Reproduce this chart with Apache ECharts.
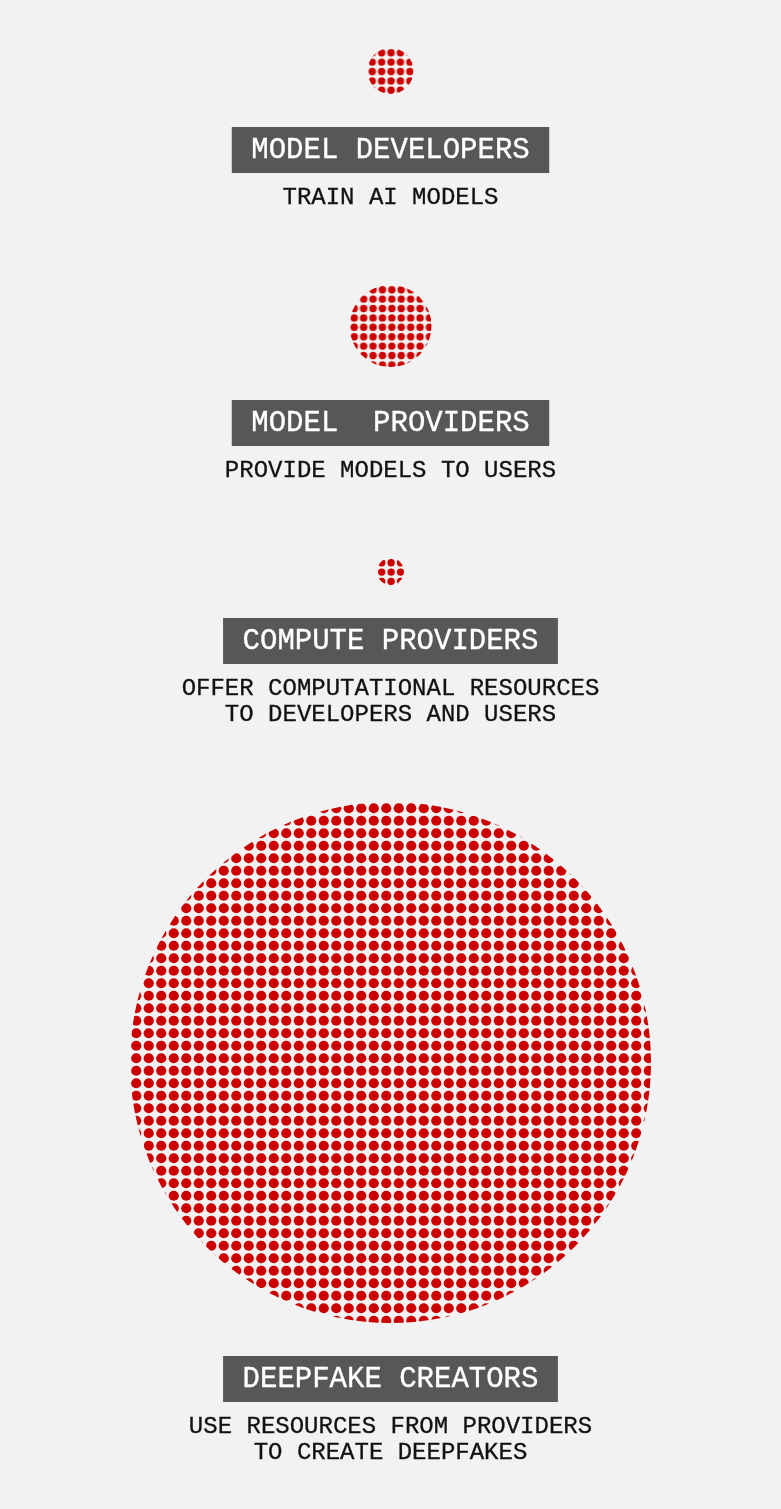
<!DOCTYPE html>
<html>
<head>
<meta charset="utf-8">
<title>Deepfake supply chain</title>
<script src="https://cdn.jsdelivr.net/npm/echarts@6.0.0/dist/echarts.min.js"></script>
<style>
html, body { margin: 0; padding: 0; background: #f2f2f2; }
#main { width: 781px; height: 1509px; }
</style>
</head>
<body>
<div id="main"></div>
<script>
// data
var roles = ['MODEL DEVELOPERS', 'MODEL  PROVIDERS', 'COMPUTE PROVIDERS', 'DEEPFAKE CREATORS'];
var descriptions = [
    'TRAIN AI MODELS',
    'PROVIDE MODELS TO USERS',
    'OFFER COMPUTATIONAL RESOURCES\nTO DEVELOPERS AND USERS',
    'USE RESOURCES FROM PROVIDERS\nTO CREATE DEEPFAKES'
];
var circleSizes = [46, 82, 27, 521];

// dot texture per circle (spacing px, dot radius px, cells per tile)
var dotTexture = [
    [9.4, 3.7, 5],
    [9.4, 3.7, 5],
    [9.4, 3.7, 5],
    [12.5, 5.1, 2]
];
var RED = '#cc0000';

function makeTile(spacing, dotR, cells){
    var size = Math.round(spacing * cells);
    var cv = document.createElement('canvas');
    cv.width = size;
    cv.height = size;
    var ctx = cv.getContext('2d');
    ctx.fillStyle = RED;
    for(var i=0; i<cells; i++){
        for(var j=0; j<cells; j++){
            ctx.beginPath();
            ctx.arc(spacing/2 + i*spacing, spacing/2 + j*spacing, dotR, 0, Math.PI*2);
            ctx.fill();
        }
    }
    return cv;
}

var tiles = [];
for(var t=0; t<dotTexture.length; t++){
    tiles.push(makeTile(dotTexture[t][0], dotTexture[t][1], dotTexture[t][2]));
}

// stack the blocks top to bottom: circle, label box, description
var points = [];
var y = 48;
for(var i=0; i<circleSizes.length; i++){
    var d = circleSizes[i];
    var lines = descriptions[i].split('\n').length;
    points.push([390.5, y + d/2, d, i]);
    y = y + d + 33 + 45 + 25.5 + (lines-1)*26 + 87.5;
}

function renderItem(params, api){
    var i = api.value(3);
    var c = api.coord([api.value(0), api.value(1)]);
    var r = api.size([0, api.value(2)])[1] / 2;
    var boxTop = c[1] + r + 33;
    return {
        type: 'group',
        children: [{
            type: 'circle',
            shape: {cx: c[0], cy: c[1], r: r},
            style: {
                fill: {image: tiles[i], repeat: 'repeat', x: c[0] - r, y: c[1] - r}
            }
        }, {
            type: 'text',
            style: {
                x: c[0],
                y: boxTop,
                text: roles[i],
                fontFamily: 'Liberation Mono',
                fontSize: 29,
                lineHeight: 46,
                fill: '#ffffff',
                stroke: '#ffffff',
                lineWidth: 0.35,
                backgroundColor: '#575757',
                padding: [0, 19.5],
                align: 'center',
                verticalAlign: 'top'
            }
        }, {
            type: 'text',
            style: {
                x: c[0],
                y: boxTop + 45 + 12.5,
                text: descriptions[i],
                fontFamily: 'Liberation Mono',
                fontSize: 24,
                lineHeight: 26,
                fill: '#111111',
                stroke: '#111111',
                lineWidth: 0.3,
                align: 'center',
                verticalAlign: 'top'
            }
        }]
    };
}

var chart = echarts.init(document.getElementById('main'));
var option = {
    backgroundColor: '#f2f2f2',
    animation: false,
    grid: {left: 0, right: 0, top: 0, bottom: 0},
    xAxis: {type: 'value', min: 0, max: 781, show: false},
    yAxis: {type: 'value', min: 0, max: 1509, inverse: true, show: false},
    series: [{
        type: 'custom',
        silent: true,
        renderItem: renderItem,
        data: points
    }]
};
chart.setOption(option);
</script>
</body>
</html>
